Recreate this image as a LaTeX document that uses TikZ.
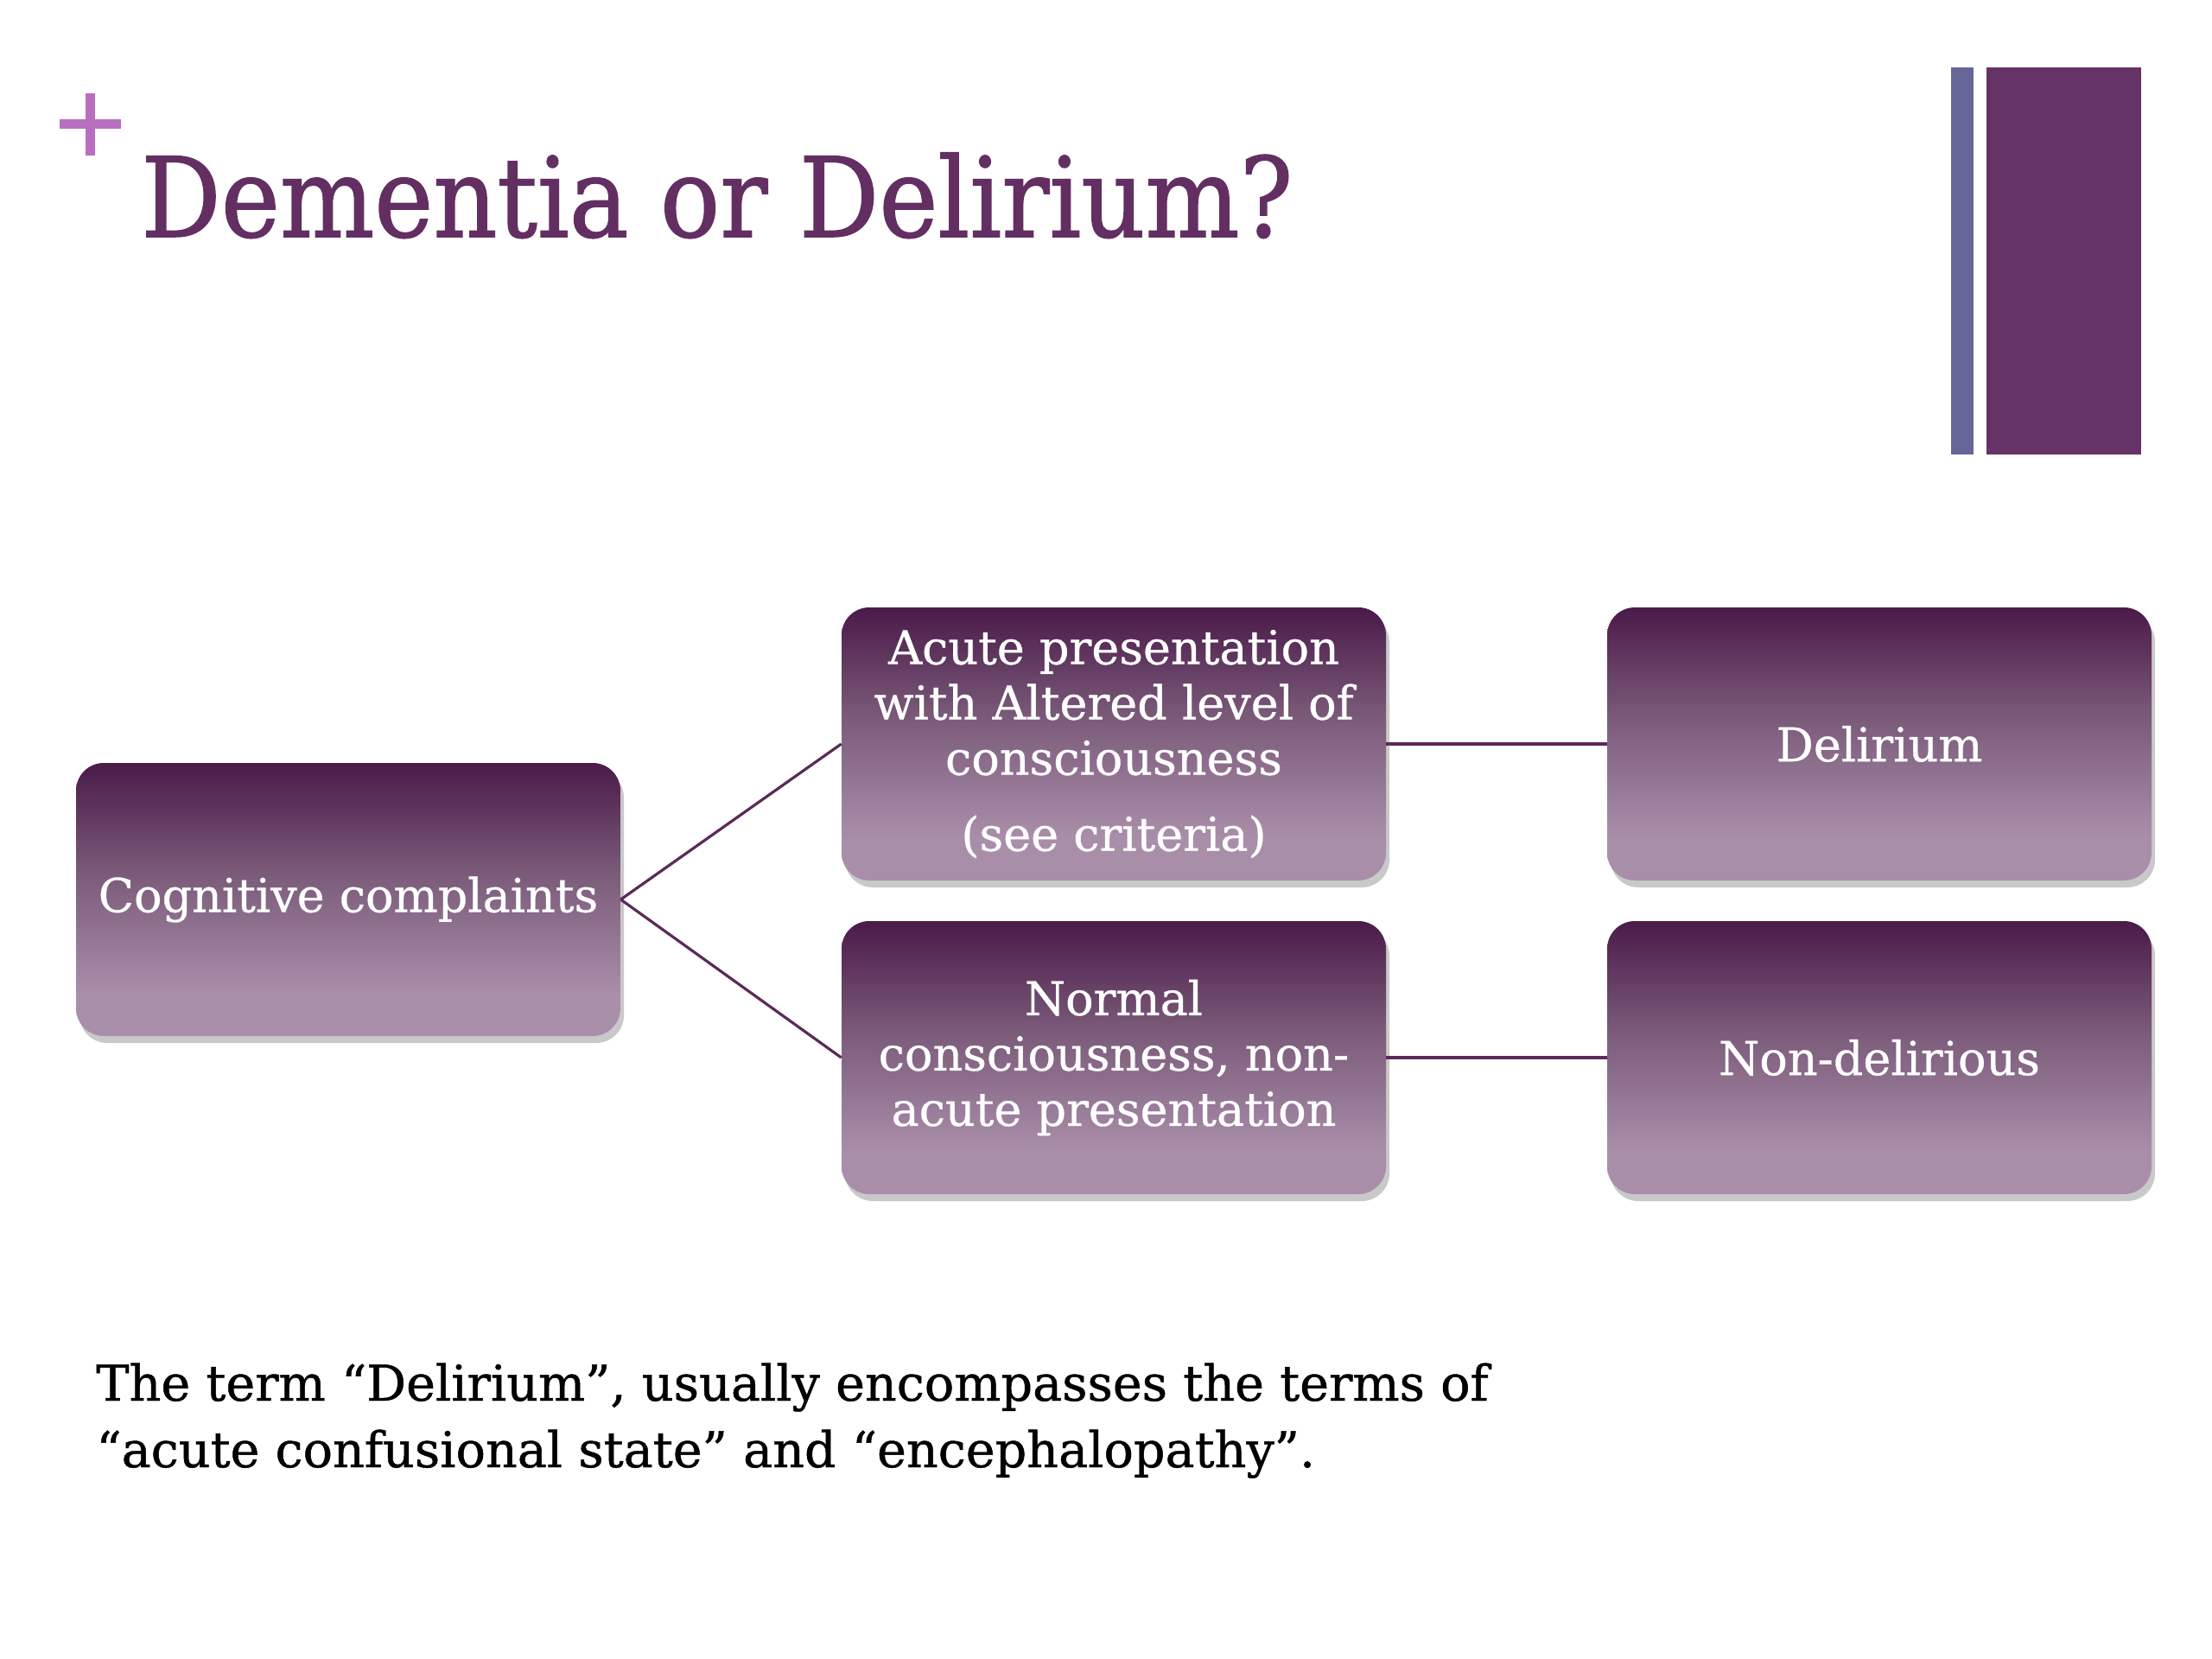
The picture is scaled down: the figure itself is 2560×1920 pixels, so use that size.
\documentclass[tikz,border=0pt]{standalone}
\usepackage{fontspec}
\setmainfont{DejaVu Serif}
\usetikzlibrary{shadows}
\definecolor{titlepurple}{HTML}{632F62}
\definecolor{plusc}{HTML}{B86FC0}
\definecolor{barblue}{HTML}{666699}
\definecolor{barpurple}{HTML}{663366}
\definecolor{boxdark}{HTML}{4A1A49}
\definecolor{boxmid}{HTML}{7A5A79}
\definecolor{boxlight}{HTML}{A98EAA}
\definecolor{linkc}{HTML}{5A2A5A}
\pgfdeclareverticalshading{boxshade}{100bp}{color(0bp)=(boxlight); color(25bp)=(boxlight); color(33bp)=(boxlight); color(55bp)=(boxmid); color(75bp)=(boxdark); color(100bp)=(boxdark)}
\tikzset{
  box/.style={rounded corners=16pt, minimum width=315pt, minimum height=158pt, shading=boxshade,
    text=white, align=center, inner sep=0pt,
    font=\fontsize{27}{32}\selectfont\addfontfeatures{FakeBold=0.6},
    drop shadow={opacity=0.35, shadow xshift=2pt, shadow yshift=-4pt, fill=black!60}},
  link/.style={draw=linkc, line width=1.6pt},
}
\begin{document}
\begin{tikzpicture}[x=0.5pt,y=-0.5pt]
\useasboundingbox (0,0) rectangle (2560,1920);
\fill[white] (0,0) rectangle (2560,1920);
% plus
\draw[plusc, line width=5.5pt] (69,144) -- (140,144) (104.5,108) -- (104.5,180);
% title
\node[anchor=base west, inner sep=0pt, text=titlepurple, font=\fontsize{64}{70}\selectfont\addfontfeatures{FakeBold=1.2}] (title) at (163,274) {\scalebox{0.9}[1]{Dementia or Delirium?}};
% bars
\fill[barblue] (2258,78) rectangle (2284,526);
\fill[barpurple] (2299,78) rectangle (2478,526);
% nodes
\node[box] (cog) at (403,1041) {Cognitive complaints};
\node[box] (acute) at (1289,861) {Acute presentation\\with Altered level of\\consciousness\\[12pt](see criteria)};
\node[box] (normal) at (1289,1224) {Normal\\consciousness, non-\\acute presentation};
\node[box] (del) at (2175,861) {Delirium};
\node[box] (nondel) at (2175,1224) {Non-delirious};
\draw[link] (cog.east) -- (acute.west);
\draw[link] (cog.east) -- (normal.west);
\draw[link] (acute.east) -- (del.west);
\draw[link] (normal.east) -- (nondel.west);
% bottom text
\node[anchor=base west, inner sep=0pt, align=left, font=\fontsize{28.6}{38.5}\selectfont\addfontfeatures{FakeBold=0.8}] (note) at (111,1698) {The term “Delirium”, usually encompasses the terms of\\“acute confusional state” and “encephalopathy”.};
\end{tikzpicture}
\end{document}
